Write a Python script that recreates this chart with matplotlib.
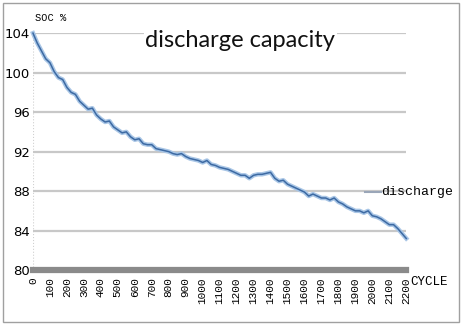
import numpy as np
import matplotlib.pyplot as plt
from matplotlib.patches import Rectangle
from matplotlib.lines import Line2D

# données
cycles = list(range(0, 2201, 25))
soc = [104.0, 103.0, 102.2, 101.4, 101.0, 100.1, 99.5, 99.3, 98.5, 98.0,
       97.8, 97.1, 96.7, 96.3, 96.4, 95.7, 95.3, 95.0, 95.1, 94.5,
       94.2, 93.9, 94.0, 93.5, 93.2, 93.3, 92.8, 92.7, 92.7, 92.3,
       92.2, 92.1, 92.0, 91.8, 91.7, 91.8, 91.5, 91.3, 91.2, 91.1,
       90.9, 91.1, 90.7, 90.6, 90.4, 90.3, 90.2, 90.0, 89.8, 89.6,
       89.6, 89.3, 89.6, 89.7, 89.7, 89.8, 89.9, 89.3, 89.0, 89.1,
       88.7, 88.5, 88.3, 88.1, 87.9, 87.5, 87.7, 87.5, 87.3, 87.3,
       87.1, 87.3, 86.9, 86.7, 86.4, 86.2, 86.0, 86.0, 85.8, 86.0,
       85.5, 85.4, 85.2, 84.9, 84.6, 84.6, 84.2, 83.7, 83.2]
yticks = [80, 84, 88, 92, 96, 100, 104]
xticks = list(range(0, 2201, 100))

fig = plt.figure(figsize=(4.62, 3.25), dpi=100)
ax = fig.add_axes([0.0714, 0.169, 0.808, 0.729])

# courbe : halo clair + trait foncé
ax.plot(cycles, soc, color="#a9c6e6", lw=3.2, clip_on=False, zorder=3)
ax.plot(cycles, soc, color="#3d6aa3", lw=1.1, clip_on=False, zorder=4)

ax.set_xlim(0, 2200)
ax.set_ylim(80, 104)
ax.set_yticks(yticks)
ax.set_xticks(xticks)
ax.set_xticklabels([str(v) for v in xticks], rotation=90,
                   family="Liberation Mono", fontsize=8)
ax.set_yticklabels([str(v) for v in yticks], family="DejaVu Sans", fontsize=9.5)
ax.tick_params(axis="x", length=0, pad=5)
ax.tick_params(axis="y", length=0, pad=2)
ax.grid(axis="y", color="#c8c8c8", lw=1.6, zorder=0)
for s in ["top", "right", "left"]:
    ax.spines[s].set_visible(False)
ax.spines["bottom"].set_color("#8a8a8a")
ax.spines["bottom"].set_linewidth(4.5)
ax.axvline(0, color="#d0d0d0", lw=0.8, ls=":", zorder=1)

# titre dans la zone du graphique
fig.text(0.52, 0.875, "discharge capacity", family="Lato", fontsize=17,
         ha="center", va="center", color="#111111",
         bbox=dict(facecolor="white", edgecolor="none", pad=1))
fig.text(0.075, 0.945, "SOC %", family="Liberation Mono", fontsize=7.5,
         ha="left", va="center")
fig.text(0.888, 0.132, "CYCLE", family="Liberation Mono", fontsize=9,
         ha="left", va="center")

# légende
fig.add_artist(Line2D([0.79, 0.825], [0.41, 0.41], color="#9aa6b8", lw=1.5))
fig.text(0.826, 0.41, "discharge", family="Liberation Mono", fontsize=9.5,
         ha="left", va="center")

# cadre
fig.add_artist(Rectangle((0.007, 0.009), 0.986, 0.982, transform=fig.transFigure,
                         fill=False, edgecolor="#a0a0a0", lw=1))

fig.savefig("out.png", dpi=100)
